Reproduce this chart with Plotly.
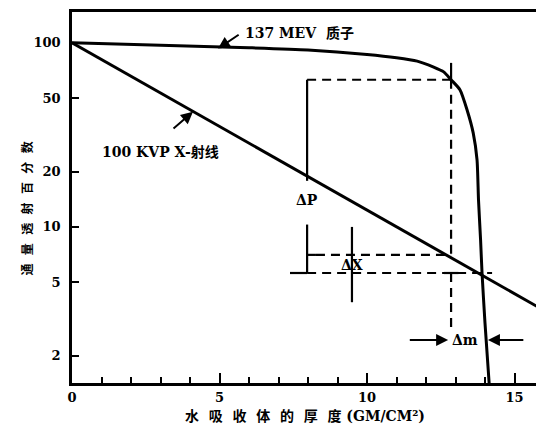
import numpy as np
import plotly.graph_objects as go

# ---- data ----
proton_x = [0, 3, 6, 8, 10, 11, 11.7, 12.24, 12.6, 12.85, 13.15, 13.39, 13.6, 13.73, 13.78, 13.85, 13.9, 14.0, 14.14]
proton_y = [100, 97, 94, 91.5, 86.5, 83, 79.5, 74, 69.5, 63, 55.6, 43.3, 32.4, 23.1, 14, 8.5, 5.6, 3.0, 1.42]

xray_x = [0, 16]
xray_y = [100, 3.52]

# guide lines (x values, y values)
dash_top_x = [7.97, 12.85]
dash_top_y = [63, 63]
dash_mid_x = [8.27, 12.85]
dash_mid_y = [7.05, 7.05]
dash_low_x = [7.97, 14.24]
dash_low_y = [5.62, 5.62]
dash_v1_x = [12.85, 12.85]
dash_v1_y = [63, 7.05]
dash_v2_x = [12.85, 12.85]
dash_v2_y = [5.62, 2.7]

solid_segments = [
    ([7.97, 7.97], [63, 17.8]),
    ([7.97, 7.97], [10.3, 5.62]),
    ([7.97, 8.27], [7.05, 7.05]),
    ([7.39, 7.97], [5.62, 5.62]),
    ([9.49, 9.49], [10.0, 3.9]),
    ([12.85, 12.85], [77.8, 63]),
    ([12.6, 13.1], [5.62, 5.62]),
]

x_ticks = [0, 5, 10, 15]
y_ticks = [2, 5, 10, 20, 50, 100]

FONT = "DejaVu Serif, Noto Sans CJK SC, serif"

fig = go.Figure()
fig.add_trace(go.Scatter(x=proton_x, y=proton_y, mode="lines",
                         line=dict(color="black", width=3, shape="spline", smoothing=0.6)))
fig.add_trace(go.Scatter(x=xray_x, y=xray_y, mode="lines",
                         line=dict(color="black", width=3)))

for xs, ys in [(dash_top_x, dash_top_y), (dash_mid_x, dash_mid_y), (dash_low_x, dash_low_y),
               (dash_v1_x, dash_v1_y), (dash_v2_x, dash_v2_y)]:
    fig.add_trace(go.Scatter(x=xs, y=ys, mode="lines",
                             line=dict(color="black", width=2.2, dash="9px,6px")))
for xs, ys in solid_segments:
    fig.add_trace(go.Scatter(x=xs, y=ys, mode="lines",
                             line=dict(color="black", width=2.2)))

L = np.log10

def label(text, x, y, size=14, xanchor="center"):
    fig.add_annotation(x=x, y=L(y), text=text, showarrow=False, xanchor=xanchor,
                       yanchor="middle", font=dict(family=FONT, size=size, color="black", weight="bold"))

label("137 MEV  质子", 5.8, 113, xanchor="left")
label("100 KVP X-射线", 0.95, 25.6, xanchor="left")
label("ΔP", 7.97, 14.0)
label("ΔX", 9.49, 6.2)
label("Δm", 13.32, 2.43)

def arrow(x0, y0, x1, y1):
    fig.add_annotation(x=x1, y=L(y1), ax=x0, ay=L(y0), axref="x", ayref="y",
                       xref="x", yref="y", text="", showarrow=True,
                       arrowhead=2, arrowsize=1.2, arrowwidth=2, arrowcolor="black")

arrow(5.7, 112, 4.95, 93)
arrow(3.39, 33.7, 4.1, 42.2)
arrow(11.4, 2.43, 12.75, 2.43)
arrow(15.35, 2.43, 14.1, 2.43)

# axis titles as annotations for exact placement
fig.add_annotation(x=0, xref="paper", xshift=-54, y=0.469, yref="paper",
                   text="通  量  透  射  百  分  数", textangle=-90, showarrow=False,
                   font=dict(family=FONT, size=12, color="black", weight="bold"))
fig.add_annotation(x=0.494, xref="paper", y=0, yref="paper", yshift=-43,
                   text="水  吸  收  体  的  厚  度 (GM/CM²)", showarrow=False,
                   font=dict(family=FONT, size=14, color="black", weight="bold"))

fig.update_layout(
    width=536, height=431,
    margin=dict(l=64, r=0, t=4, b=56, autoexpand=False),
    paper_bgcolor="white", plot_bgcolor="white",
    showlegend=False,
    font=dict(family=FONT, color="black"),
    xaxis=dict(range=[0, 16], showgrid=False, zeroline=False, automargin=False,
               showline=True, linecolor="black", linewidth=2.5, mirror=True,
               ticks="inside", tickvals=x_ticks, ticklen=10, tickwidth=2, tickcolor="black",
               minor=dict(dtick=1, ticks="inside", ticklen=6, tickwidth=2, tickcolor="black"),
               tickfont=dict(family=FONT, size=13, color="black", weight="bold"),
               ticklabelstandoff=1),
    yaxis=dict(type="log", range=[L(1.42), L(147)], showgrid=False, zeroline=False,
               automargin=False,
               showline=True, linecolor="black", linewidth=2.5,
               ticks="inside", tickvals=y_ticks, ticktext=[str(v) for v in y_ticks],
               ticklen=7, tickwidth=2, tickcolor="black",
               tickfont=dict(family=FONT, size=13, color="black", weight="bold"),
               ticklabelstandoff=6),
)

fig.write_html("out.html")
